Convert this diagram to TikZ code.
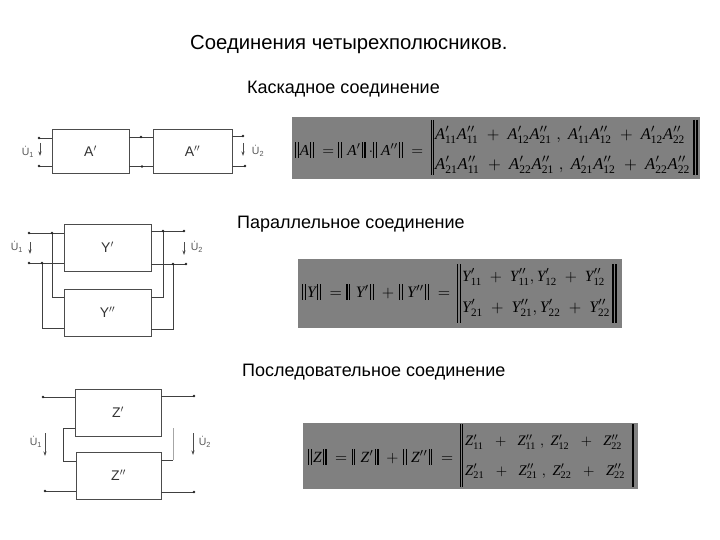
\documentclass[tikz,border=0pt]{standalone}
\usepackage{graphicx}
\usepackage{fontspec}
\setmainfont{Liberation Sans}
\newfontfamily\ser{Liberation Serif}
\usetikzlibrary{arrows.meta}
\newcommand{\Ee}[3]{\hbox{\ser\itshape #1}^{#2}_{\hbox{\ser\fontsize{7}{8}\selectfont #3}}}
\newcommand{\Dbar}{\vrule height 8.5pt depth 1.5pt width .7pt\kern 1.1pt\vrule height 8.5pt depth 1.5pt width .7pt}
\newcommand{\Nn}[1]{\Dbar\kern.6pt\hbox{\ser\itshape #1}\kern.6pt\Dbar}
\begin{document}
\begin{tikzpicture}[x=1pt,y=-1pt,
  boxn/.style={draw=black!70,line width=0.9pt,fill=white,inner sep=0pt,font=\fontsize{14}{16}\selectfont,text=black!80},
  wire/.style={draw=black!75,line width=0.9pt},
  lwire/.style={draw=black!35,line width=0.9pt},
  ua/.style={draw=black!70,line width=0.8pt,-{Stealth[length=4.5pt,width=3pt]}},
  ulab/.style={inner sep=0pt,text=black!65,font=\fontsize{10.5}{12}\selectfont},
  head/.style={inner sep=0pt,anchor=west,font=\fontsize{18}{22}\selectfont},
  title/.style={inner sep=0pt,anchor=west,font=\fontsize{20.3}{24}\selectfont},
  fml/.style={inner sep=0pt,anchor=west},
  dot/.style={fill=black!85}]
\useasboundingbox (0,0) rectangle (720,540);
\fill[white] (0,0) rectangle (720,540);

% headings
\node[title] (t0) at (190,45) {Соединения четырехполюсников.};
\node[head] (t1) at (247,89) {Каскадное соединение};
\node[head] (t2) at (237,224) {Параллельное соединение};
\node[head] (t3) at (242,372) {Последовательное соединение};

% cascade
\node[boxn,minimum width=77pt,minimum height=44pt] (A1) at (90.5,151) {A$'$};
\node[boxn,minimum width=79pt,minimum height=44pt] (A2) at (192.5,151) {A$''$};
\coordinate (a1) at (39,138); \coordinate (a2) at (39,166);
\coordinate (a3) at (243,136); \coordinate (a4) at (245,166);
\coordinate (a5) at (141,137); \coordinate (a6) at (142,166.5);
\draw[wire] (a1) -- (a1 -| A1.west);
\draw[wire] (a2) -- (a2 -| A1.west);
\draw[wire] (a5 -| A1.east) -- (a5 -| A2.west);
\draw[wire] (a6 -| A1.east) -- (a6 -| A2.west);
\draw[wire] (a3 -| A2.east) -- (a3);
\draw[wire] (a4 -| A2.east) -- (a4);
\foreach \p in {a1,a2,a3,a4,a5,a6} \fill[dot] (\p) circle (1.4);
\node[ulab] (ua1) at (28,152) {\.U\textsubscript{1}};
\node[ulab] (ua2) at (258,151) {\.U\textsubscript{2}};
\coordinate (aa1) at (40,143); \coordinate (aa2) at (40,156);
\coordinate (aa3) at (243,143); \coordinate (aa4) at (243,156);
\draw[ua] (aa1) -- (aa2);
\draw[ua] (aa3) -- (aa4);

% parallel
\node[boxn,minimum width=87pt,minimum height=47pt] (Y1) at (107.5,247.5) {Y$'$};
\node[boxn,minimum width=87pt,minimum height=47pt] (Y2) at (107.5,312.5) {Y$''$};
\coordinate (y1) at (29,233); \coordinate (y2) at (29,263);
\coordinate (y3) at (184,231); \coordinate (y4) at (186,264);
\coordinate (j1) at (52,233); \coordinate (j2) at (42,263);
\coordinate (j3) at (163,231); \coordinate (j4) at (173,264);
\coordinate (k1) at (52,297); \coordinate (k2) at (42,328);
\coordinate (k3) at (163,297); \coordinate (k4) at (173,329);
\draw[wire] (y1) -- (y1 -| Y1.west);
\draw[wire] (y2) -- (y2 -| Y1.west);
\draw[wire] (y3 -| Y1.east) -- (y3);
\draw[wire] (y4 -| Y1.east) -- (y4);
\draw[wire] (j1) -- (k1) -- (k1 -| Y2.west);
\draw[wire] (j2) -- (k2) -- (k2 -| Y2.west);
\draw[wire] (j3) -- (k3) -- (k3 -| Y2.east);
\draw[wire] (j4) -- (k4) -- (k4 -| Y2.east);
\foreach \p in {y1,y2,y3,y4,j1,j2,j3,j4} \fill[dot] (\p) circle (1.4);
\node[ulab] (uy1) at (17,247) {\.U\textsubscript{1}};
\node[ulab] (uy2) at (197,247) {\.U\textsubscript{2}};
\coordinate (ay1) at (30,242); \coordinate (ay2) at (30,254);
\coordinate (ay3) at (184,242); \coordinate (ay4) at (184,255);
\draw[ua] (ay1) -- (ay2);
\draw[ua] (ay3) -- (ay4);

% series
\node[boxn,minimum width=86pt,minimum height=47pt] (Z1) at (118,412.5) {Z$'$};
\node[boxn,minimum width=85pt,minimum height=47pt] (Z2) at (118.5,475.5) {Z$''$};
\coordinate (z1) at (43,397); \coordinate (z2) at (194,396);
\coordinate (z3) at (45,491); \coordinate (z4) at (194,492);
\coordinate (l1) at (63,428); \coordinate (l2) at (63,461);
\coordinate (r1) at (173,428); \coordinate (r2) at (173,460);
\draw[wire] (z1) -- (z1 -| Z1.west);
\draw[wire] (z2 -| Z1.east) -- (z2);
\draw[wire] (z3) -- (z3 -| Z2.west);
\draw[wire] (z4 -| Z2.east) -- (z4);
\draw[wire] (l1 -| Z1.west) -- (l1) -- (l2) -- (l2 -| Z2.west);
\draw[lwire] (r1) -- (r2);
\draw[wire] (r2) -- (r2 -| Z2.east);
\foreach \p in {z1,z2,z3,z4} \fill[dot] (\p) circle (1.4);
\node[ulab] (uz1) at (36,442) {\.U\textsubscript{1}};
\node[ulab] (uz2) at (205,442) {\.U\textsubscript{2}};
\coordinate (az1) at (45,433); \coordinate (az2) at (45,456);
\coordinate (az3) at (193,433); \coordinate (az4) at (193,455);
\draw[ua] (az1) -- (az2);
\draw[ua] (az3) -- (az4);

% formula A
\fill[black!50] (292,117) rectangle (700,179);
\node[fml] (fa0) at (295,150) {\resizebox{128pt}{!}{$\Nn{A}\;=\;\Nn{A$'$}\cdot\Nn{A$''$}\;=$}};
\node[fml] (fa1) at (435,135) {\resizebox{250pt}{!}{$\Ee{A}{\prime}{11}\Ee{A}{\prime\prime}{11}\;+\;\Ee{A}{\prime}{12}\Ee{A}{\prime\prime}{21}\;,\;\Ee{A}{\prime}{11}\Ee{A}{\prime\prime}{12}\;+\;\Ee{A}{\prime}{12}\Ee{A}{\prime\prime}{22}$}};
\node[fml] (fa2) at (435,165) {\resizebox{255pt}{!}{$\Ee{A}{\prime}{21}\Ee{A}{\prime\prime}{11}\;+\;\Ee{A}{\prime}{22}\Ee{A}{\prime\prime}{21}\;,\;\Ee{A}{\prime}{21}\Ee{A}{\prime\prime}{12}\;+\;\Ee{A}{\prime}{22}\Ee{A}{\prime\prime}{22}$}};
\draw[black,line width=0.8pt] (431,120) -- (431,175) (433.5,120) -- (433.5,175);
\draw[black,line width=1.4pt] (694,120) -- (694,175) (697,120) -- (697,175);

% formula Y
\fill[black!50] (298,259) rectangle (622,328);
\node[fml] (fy0) at (302,292) {\resizebox{148pt}{!}{$\Nn{Y}\;=\;\Nn{Y$'$}\;+\;\Nn{Y$''$}\;=$}};
\node[fml] (fy1) at (462,277) {\resizebox{143pt}{!}{$\Ee{Y}{\prime}{11}\;+\;\Ee{Y}{\prime\prime}{11},\Ee{Y}{\prime}{12}\;+\;\Ee{Y}{\prime\prime}{12}$}};
\node[fml] (fy2) at (462,308) {\resizebox{148pt}{!}{$\Ee{Y}{\prime}{21}\;+\;\Ee{Y}{\prime\prime}{21},\Ee{Y}{\prime}{22}\;+\;\Ee{Y}{\prime\prime}{22}$}};
\draw[black,line width=0.8pt] (457.5,264) -- (457.5,323) (460,264) -- (460,323);
\draw[black,line width=1.4pt] (613,264) -- (613,323) (616,264) -- (616,323);

% formula Z
\fill[black!50] (303,423) rectangle (638,489);
\node[fml] (fz0) at (308,457) {\resizebox{145pt}{!}{$\Nn{Z}\;=\;\Nn{Z$'$}\;+\;\Nn{Z$''$}\;=$}};
\node[fml] (fz1) at (465,442) {\resizebox{157pt}{!}{$\Ee{Z}{\prime}{11}\;\;+\;\;\Ee{Z}{\prime\prime}{11}\;,\;\Ee{Z}{\prime}{12}\;\;+\;\;\Ee{Z}{\prime\prime}{22}$}};
\node[fml] (fz2) at (465,471) {\resizebox{160pt}{!}{$\Ee{Z}{\prime}{21}\;\;+\;\;\Ee{Z}{\prime\prime}{21}\;,\;\Ee{Z}{\prime}{22}\;\;+\;\;\Ee{Z}{\prime\prime}{22}$}};
\draw[black,line width=0.8pt] (460,424) -- (460,487) (462.5,424) -- (462.5,487);
\draw[black,line width=2.6pt] (633,424) -- (633,487);
\end{tikzpicture}
\end{document}
